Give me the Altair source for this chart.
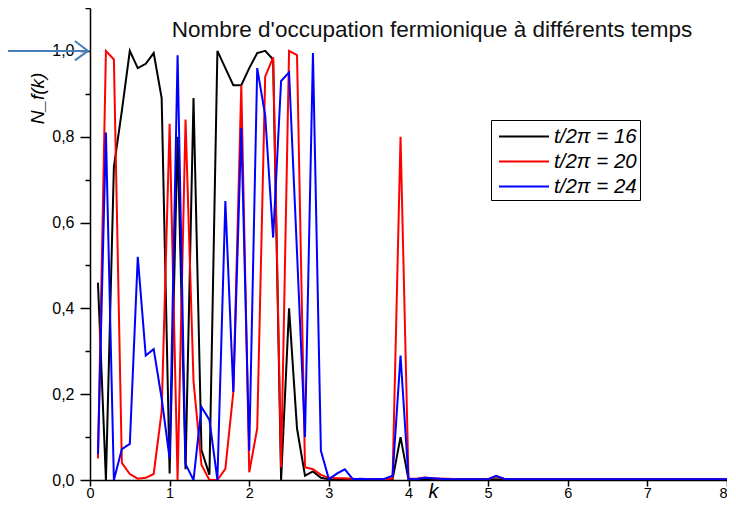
import altair as alt
import pandas as pd

# k grid (0.1 .. 8.0)
k_values = [
    0.1, 0.2, 0.3, 0.4, 0.5, 0.6, 0.7, 0.8, 0.9, 1.0,
    1.1, 1.2, 1.3, 1.4, 1.5, 1.6, 1.7, 1.8, 1.9, 2.0,
    2.1, 2.2, 2.3, 2.4, 2.5, 2.6, 2.7, 2.8, 2.9, 3.0,
    3.1, 3.2, 3.3, 3.4, 3.5, 3.6, 3.7, 3.8, 3.9, 4.0,
    4.1, 4.2, 4.3, 4.4, 4.5, 4.6, 4.7, 4.8, 4.9, 5.0,
    5.1, 5.2, 5.3, 5.4, 5.5, 5.6, 5.7, 5.8, 5.9, 6.0,
    6.1, 6.2, 6.3, 6.4, 6.5, 6.6, 6.7, 6.8, 6.9, 7.0,
    7.1, 7.2, 7.3, 7.4, 7.5, 7.6, 7.7, 7.8, 7.9, 8.0,
]

# t/2pi = 16 (black)
n16 = [
    0.46, 0.00, 0.73, 0.86, 1.00, 0.96, 0.97, 0.995, 0.89, 0.015,
    0.80, 0.025, 0.89, 0.07, 0.012, 1.00, 0.96, 0.92, 0.92, 0.96,
    0.995, 1.00, 0.98, 0.00, 0.40, 0.12, 0.01, 0.02, 0.005, 0.002,
    0.001, 0.001, 0.001, 0.001, 0.001, 0.001, 0.001, 0.002, 0.10, 0.001,
    0.001, 0.001, 0.001, 0.001, 0.001, 0.001, 0.001, 0.001, 0.001, 0.001,
    0.002, 0.001, 0.001, 0.001, 0.001, 0.001, 0.001, 0.001, 0.001, 0.001,
    0.001, 0.001, 0.001, 0.001, 0.001, 0.001, 0.001, 0.001, 0.001, 0.001,
    0.001, 0.001, 0.001, 0.001, 0.001, 0.001, 0.001, 0.001, 0.001, 0.001,
]

# t/2pi = 20 (red)
n20 = [
    0.05, 1.00, 0.98, 0.04, 0.014, 0.003, 0.005, 0.014, 0.16, 0.83,
    0.00, 0.84, 0.23, 0.035, 0.00, 0.00, 0.026, 0.205, 0.92, 0.018,
    0.12, 0.94, 0.985, 0.03, 1.00, 0.99, 0.03, 0.025, 0.012, 0.005,
    0.004, 0.004, 0.003, 0.002, 0.002, 0.002, 0.002, 0.004, 0.80, 0.003,
    0.003, 0.006, 0.004, 0.003, 0.003, 0.002, 0.002, 0.002, 0.002, 0.002,
    0.008, 0.003, 0.002, 0.002, 0.002, 0.002, 0.002, 0.002, 0.002, 0.002,
    0.002, 0.002, 0.002, 0.002, 0.002, 0.002, 0.002, 0.002, 0.002, 0.002,
    0.002, 0.002, 0.002, 0.002, 0.002, 0.002, 0.002, 0.002, 0.002, 0.002,
]

# t/2pi = 24 (blue)
n24 = [
    0.06, 0.81, 0.00, 0.072, 0.084, 0.52, 0.29, 0.305, 0.19, 0.05,
    0.99, 0.037, 0.00, 0.17, 0.14, 0.00, 0.65, 0.205, 0.82, 0.068,
    0.96, 0.85, 0.565, 0.93, 0.95, 0.53, 0.10, 0.995, 0.068, 0.002,
    0.015, 0.025, 0.002, 0.003, 0.002, 0.002, 0.003, 0.01, 0.29, 0.003,
    0.002, 0.005, 0.004, 0.003, 0.002, 0.002, 0.002, 0.002, 0.002, 0.002,
    0.01, 0.003, 0.002, 0.002, 0.002, 0.002, 0.002, 0.002, 0.002, 0.002,
    0.002, 0.002, 0.002, 0.002, 0.002, 0.002, 0.002, 0.002, 0.002, 0.002,
    0.002, 0.002, 0.002, 0.002, 0.002, 0.002, 0.002, 0.002, 0.002, 0.002,
]

series_names = ["t/2π = 16", "t/2π = 20", "t/2π = 24"]
series_colors = ["#000000", "#ff0000", "#0000ff"]
title_text = "Nombre d'occupation fermionique à différents temps"

x_ticks = [0, 0.5, 1, 1.5, 2, 2.5, 3, 3.5, 4, 4.5, 5, 5.5, 6, 6.5, 7, 7.5, 8]
y_ticks = [0, 0.1, 0.2, 0.3, 0.4, 0.5, 0.6, 0.7, 0.8, 0.9, 1.0, 1.1]

# annotation arrow (in data units)
arrow_x = [-1.05, -0.025]
arrow_y = [1.0, 1.0]
head_x = [-0.19, -0.025, -0.19]
head_y = [1.023, 1.0, 0.978]

rows = []
for name, vals in zip(series_names, [n16, n20, n24]):
    for kk, v in zip(k_values, vals):
        rows.append({"k": kk, "N": v, "serie": name})
df = pd.DataFrame(rows)

FONT = "Liberation Sans"

xscale = alt.Scale(domain=[0, 8], nice=False, zero=False)
yscale = alt.Scale(domain=[0, 1.1], nice=False, zero=False)

x_axis = alt.Axis(
    values=x_ticks,
    labelExpr="datum.value % 1 == 0 ? format(datum.value, 'd') : ''",
    labelAlign={"condition": {"test": "datum.value >= 8", "value": "right"}, "value": "center"},
    tickSize={"condition": {"test": "datum.value % 1 == 0", "value": 6}, "value": 3},
    tickColor="black", tickWidth=1.5, domainColor="black", domainWidth=1.5,
    labelFont=FONT, labelFontSize=14.5, labelColor="black", labelPadding=0,
    labelFlush=False, labelOverlap=False, grid=False,
    title="k", titleFont=FONT, titleFontSize=20, titleFontStyle="italic",
    titleFontWeight="normal", titleColor="black",
    titleX=343, titleY=17, titleBaseline="alphabetic", titleAlign="center",
)

y_axis = alt.Axis(
    values=y_ticks,
    labelExpr="round(datum.value*10) % 2 == 0 ? replace(format(datum.value, '.1f'), '.', ',') : ''",
    tickSize={"condition": {"test": "round(datum.value*10) % 2 == 0", "value": 10}, "value": 5},
    tickColor="black", tickWidth=1.5, domainColor="black", domainWidth=1.5,
    labelFont=FONT, labelFontSize=16, labelColor="black", labelPadding=6,
    labelFlush=False, labelOverlap=False, grid=False,
    title="N_f(k)", titleFont=FONT, titleFontSize=19, titleFontStyle="italic",
    titleFontWeight="normal", titleColor="black",
    titleX=-53, titleY=90, titleAngle=270, titleBaseline="middle", titleAlign="center",
)

lines = alt.Chart(df).mark_line(strokeWidth=2, clip=True).encode(
    x=alt.X("k:Q", scale=xscale, axis=x_axis),
    y=alt.Y("N:Q", scale=yscale, axis=y_axis),
    color=alt.Color(
        "serie:N",
        scale=alt.Scale(domain=series_names, range=series_colors),
        sort=series_names,
        legend=alt.Legend(
            title=None, orient="none", legendX=401, legendY=112,
            strokeColor="black", fillColor="white", padding=3,
            symbolType="M-1,0H3", symbolSize=625, symbolStrokeWidth=2,
            symbolOffset=4,
            labelFont=FONT, labelFontSize=20.5, labelFontStyle="italic",
            labelColor="black", labelOffset=29, rowPadding=1,
        ),
    ),
)

arrow_df = pd.DataFrame({"k": arrow_x, "N": arrow_y})
head_df = pd.DataFrame({"k": head_x, "N": head_y, "o": [0, 1, 2]})

arrow = alt.Chart(arrow_df).mark_line(color="#4a7ebb", strokeWidth=2, clip=False).encode(
    x=alt.X("k:Q", scale=xscale), y=alt.Y("N:Q", scale=yscale)
)
head = alt.Chart(head_df).mark_line(color="#4a7ebb", strokeWidth=2, clip=False).encode(
    x=alt.X("k:Q", scale=xscale), y=alt.Y("N:Q", scale=yscale), order="o:Q"
)

title = alt.Chart(pd.DataFrame({"t": [title_text]})).mark_text(
    font=FONT, fontSize=22.5, color="#111111", align="center", baseline="alphabetic"
).encode(text="t:N", x=alt.value(342), y=alt.value(29))

chart = alt.layer(lines, arrow, head, title).properties(
    width=637, height=472,
    autosize=alt.AutoSizeParams(type="none"),
    padding={"left": 82, "top": 0, "right": 0, "bottom": 20},
).configure_view(stroke=None)

chart.save("out.html", embed_options={"renderer": "svg", "actions": False})
